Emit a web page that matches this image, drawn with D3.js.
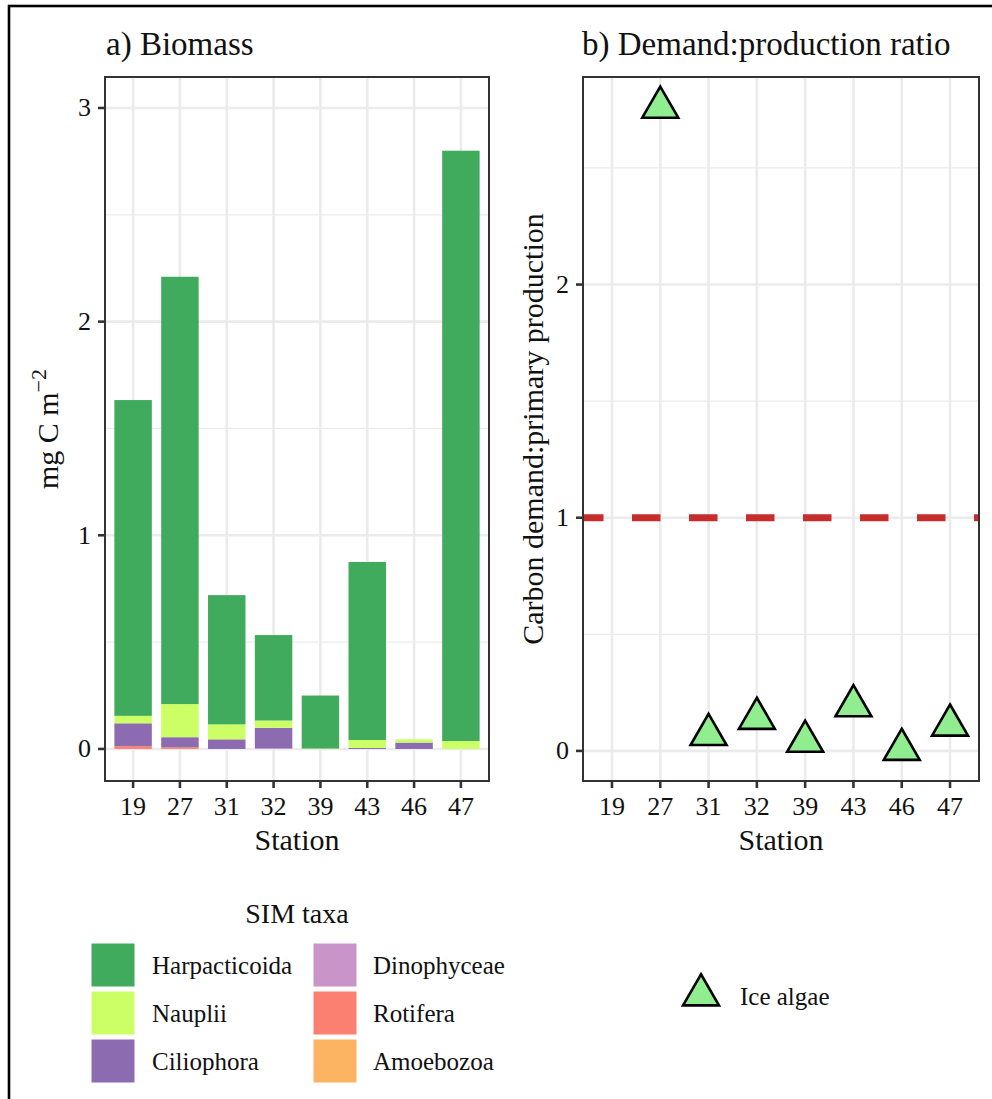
<!DOCTYPE html>
<html>
<head>
<meta charset="utf-8">
<script src="https://cdn.jsdelivr.net/npm/d3@7"></script>
<style>
  body { margin: 0; background: #fff; }
  svg { display: block; }
  text { font-family: "Times New Roman", Times, "Liberation Serif", "DejaVu Serif", serif; fill: #111; }
</style>
</head>
<body>
<svg id="chart" width="992" height="1099"></svg>
<script>
// stations along x in both panels
const stations = ["19", "27", "31", "32", "39", "43", "46", "47"];

// SIM taxa, legend order, and their fills
const taxa = ["Harpacticoida", "Nauplii", "Ciliophora", "Dinophyceae", "Rotifera", "Amoebozoa"];
const taxaColors = ["#41ab5d", "#ccff66", "#8c6bb1", "#c994c7", "#fb8072", "#fdb462"];

// biomass (mg C m-2) per taxon and station
const harpacticoida = [1.478, 2.000, 0.605, 0.400, 0.248, 0.833, 0.000, 2.763];
const nauplii       = [0.035, 0.155, 0.070, 0.034, 0.002, 0.037, 0.015, 0.037];
const ciliophora    = [0.107, 0.047, 0.045, 0.096, 0.000, 0.005, 0.030, 0.000];
const dinophyceae   = [0.000, 0.000, 0.000, 0.003, 0.000, 0.000, 0.000, 0.000];
const rotifera      = [0.013, 0.008, 0.000, 0.000, 0.000, 0.000, 0.000, 0.000];
const amoebozoa     = [0.000, 0.000, 0.000, 0.000, 0.000, 0.000, 0.000, 0.000];

// carbon demand : primary production, ice algae (no value at station 19)
const iceAlgaeRatio = [null, 2.76, 0.07, 0.139, 0.041, 0.193, 0.006, 0.11];
const refLine = 1;

const yTicksA = [0, 1, 2, 3];
const yTicksB = [0, 1, 2];

const svg = d3.select("#chart");
const grid = "#ebebeb";
const axisCol = "#333333";

// outer frame
svg.append("rect")
  .attr("x", 9).attr("y", 6)
  .attr("width", 1100).attr("height", 1200)
  .attr("fill", "none").attr("stroke", "#000").attr("stroke-width", 2.6);

const series = {
  Harpacticoida: harpacticoida, Nauplii: nauplii, Ciliophora: ciliophora,
  Dinophyceae: dinophyceae, Rotifera: rotifera, Amoebozoa: amoebozoa
};
const table = stations.map((s, i) => {
  const row = { station: s };
  taxa.forEach(t => { row[t] = series[t][i]; });
  return row;
});
const color = d3.scaleOrdinal().domain(taxa).range(taxaColors);

function panelFrame(g, box, x, y, ticks, minor, xCenter) {
  // minor grid
  g.selectAll(".minor").data(minor).join("line")
    .attr("x1", box.left).attr("x2", box.right)
    .attr("y1", d => y(d)).attr("y2", d => y(d))
    .attr("stroke", grid).attr("stroke-width", 1.3);
  // major grid
  g.selectAll(".majorY").data(ticks).join("line")
    .attr("x1", box.left).attr("x2", box.right)
    .attr("y1", d => y(d)).attr("y2", d => y(d))
    .attr("stroke", grid).attr("stroke-width", 2.6);
  g.selectAll(".majorX").data(stations).join("line")
    .attr("x1", d => xCenter(d)).attr("x2", d => xCenter(d))
    .attr("y1", box.top).attr("y2", box.bottom)
    .attr("stroke", grid).attr("stroke-width", 2.6);
}

function panelAxes(g, box, y, ticks, xCenter) {
  g.append("rect")
    .attr("x", box.left).attr("y", box.top)
    .attr("width", box.right - box.left).attr("height", box.bottom - box.top)
    .attr("fill", "none").attr("stroke", axisCol).attr("stroke-width", 2);
  g.selectAll(".yt").data(ticks).join("line")
    .attr("x1", box.left - 7).attr("x2", box.left)
    .attr("y1", d => y(d)).attr("y2", d => y(d))
    .attr("stroke", axisCol).attr("stroke-width", 2.6);
  g.selectAll(".yl").data(ticks).join("text")
    .attr("x", box.left - 14).attr("y", d => y(d))
    .attr("text-anchor", "end").attr("dominant-baseline", "central")
    .attr("font-size", 26).attr("fill", "#333")
    .text(d => d);
  g.selectAll(".xt").data(stations).join("line")
    .attr("x1", d => xCenter(d)).attr("x2", d => xCenter(d))
    .attr("y1", box.bottom).attr("y2", box.bottom + 7)
    .attr("stroke", axisCol).attr("stroke-width", 2.6);
  g.selectAll(".xl").data(stations).join("text")
    .attr("x", d => xCenter(d)).attr("y", box.bottom + 25)
    .attr("text-anchor", "middle").attr("dominant-baseline", "central")
    .attr("font-size", 26).attr("fill", "#333")
    .text(d => d);
  g.append("text")
    .attr("x", (box.left + box.right) / 2).attr("y", box.bottom + 58)
    .attr("text-anchor", "middle").attr("dominant-baseline", "central")
    .attr("font-size", 30)
    .text("Station");
}

// ---- panel a: biomass ----
const boxA = { left: 105, right: 489, top: 77, bottom: 781 };
const xA = d3.scaleBand().domain(stations).range([boxA.left, boxA.right])
  .paddingInner(0.2).paddingOuter(0.2);
const yA = d3.scaleLinear().domain([-0.15, 3.145]).range([boxA.bottom, boxA.top]);
const xAc = d => xA(d) + xA.bandwidth() / 2;

const gA = svg.append("g");
panelFrame(gA, boxA, xA, yA, yTicksA, [0.5, 1.5, 2.5], xAc);

const stackKeys = taxa.slice().reverse();
const stacked = d3.stack().keys(stackKeys)(table);
gA.append("g").selectAll("g").data(stacked).join("g")
  .attr("fill", d => color(d.key))
  .selectAll("rect").data(d => d).join("rect")
  .attr("x", d => xA(d.data.station))
  .attr("width", xA.bandwidth())
  .attr("y", d => yA(d[1]))
  .attr("height", d => Math.max(0, yA(d[0]) - yA(d[1])));

panelAxes(gA, boxA, yA, yTicksA, xAc);

gA.append("text")
  .attr("x", 106).attr("y", 55)
  .attr("font-size", 33)
  .text("a) Biomass");

const ylabA = gA.append("text")
  .attr("transform", `translate(58,${(boxA.top + boxA.bottom) / 2}) rotate(-90)`)
  .attr("text-anchor", "middle")
  .attr("font-size", 30);
ylabA.append("tspan").text("mg C m");
ylabA.append("tspan").attr("dy", -12).attr("font-size", 22).text("\u22122");

// ---- panel b: demand:production ratio ----
const boxB = { left: 583, right: 979, top: 77, bottom: 781 };
const xB = d3.scalePoint().domain(stations).range([boxB.left, boxB.right]).padding(0.6);
const yB = d3.scaleLinear().domain([-0.129, 2.89]).range([boxB.bottom, boxB.top]);

const gB = svg.append("g");
panelFrame(gB, boxB, xB, yB, yTicksB, [0.5, 1.5, 2.5], xB);

gB.append("line")
  .attr("x1", boxB.left).attr("x2", boxB.right)
  .attr("y1", yB(refLine)).attr("y2", yB(refLine))
  .attr("stroke", "#c62d2d").attr("stroke-width", 7)
  .attr("stroke-dasharray", "28.5 28.5").attr("stroke-dashoffset", 8);

const tri = d3.symbol().type(d3.symbolTriangle).size(560);
const pts = stations.map((s, i) => ({ station: s, v: iceAlgaeRatio[i] }))
  .filter(d => d.v !== null);
gB.selectAll(".pt").data(pts).join("path")
  .attr("d", tri)
  .attr("transform", d => `translate(${xB(d.station)},${yB(d.v)})`)
  .attr("fill", "#90ee90").attr("stroke", "#000").attr("stroke-width", 2.6)
  .attr("stroke-linejoin", "miter");

panelAxes(gB, boxB, yB, yTicksB, xB);

gB.append("text")
  .attr("x", 582).attr("y", 55)
  .attr("font-size", 33)
  .text("b) Demand:production ratio");

gB.append("text")
  .attr("transform", `translate(543,${(boxB.top + boxB.bottom) / 2}) rotate(-90)`)
  .attr("text-anchor", "middle")
  .attr("font-size", 30)
  .text("Carbon demand:primary production");

// ---- legends ----
const gL = svg.append("g");
gL.append("text")
  .attr("x", 297).attr("y", 923)
  .attr("text-anchor", "middle")
  .attr("font-size", 28)
  .text("SIM taxa");

const legendItems = taxa.map((t, i) => ({ t, col: Math.floor(i / 3), row: i % 3 }));
const keyX = [91, 313], labX = [152, 373], keyY0 = 943, keyStep = 48, keySize = 44;
gL.selectAll(".key").data(legendItems).join("rect")
  .attr("x", d => keyX[d.col]).attr("y", d => keyY0 + d.row * keyStep)
  .attr("width", keySize).attr("height", keySize)
  .attr("fill", d => color(d.t)).attr("stroke", "#fff").attr("stroke-width", 1);
gL.selectAll(".lab").data(legendItems).join("text")
  .attr("x", d => labX[d.col]).attr("y", d => keyY0 + d.row * keyStep + keySize / 2)
  .attr("dominant-baseline", "central")
  .attr("font-size", 25)
  .text(d => d.t);

gL.append("path")
  .attr("d", tri)
  .attr("transform", "translate(701,995)")
  .attr("fill", "#90ee90").attr("stroke", "#000").attr("stroke-width", 2.6);
gL.append("text")
  .attr("x", 740).attr("y", 996)
  .attr("dominant-baseline", "central")
  .attr("font-size", 25)
  .text("Ice algae");
</script>
</body>
</html>
